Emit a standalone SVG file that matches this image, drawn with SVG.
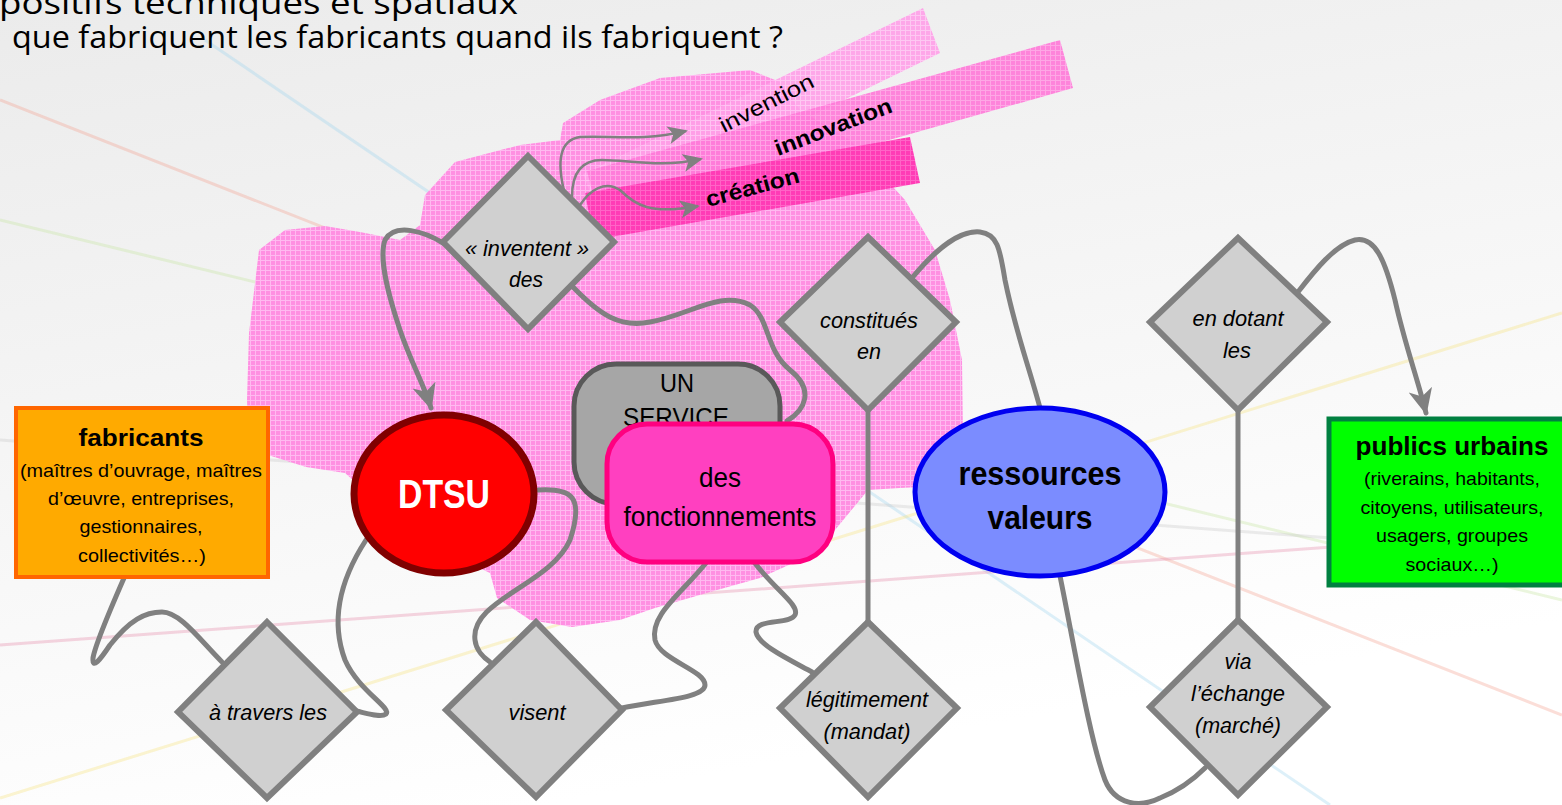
<svg xmlns="http://www.w3.org/2000/svg" width="1562" height="805" viewBox="0 0 1562 805">
<defs>
  <linearGradient id="bg" x1="0" y1="0" x2="0.35" y2="1">
    <stop offset="0" stop-color="#ebebeb"/>
    <stop offset="0.6" stop-color="#f7f7f7"/>
    <stop offset="1" stop-color="#ffffff"/>
  </linearGradient>
  <pattern id="gridBlob" width="5" height="5" patternUnits="userSpaceOnUse">
    <rect width="5" height="5" fill="#ff90e2"/>
    <path d="M0,0.5 H5 M0.5,0 V5" stroke="#ffbaf0" stroke-width="1"/>
  </pattern>
  <pattern id="gridInv" width="5" height="5" patternUnits="userSpaceOnUse">
    <rect width="5" height="5" fill="#ff9fe8"/>
    <path d="M0,0.5 H5 M0.5,0 V5" stroke="#ffc4f2" stroke-width="1"/>
  </pattern>
  <pattern id="gridInno" width="5" height="5" patternUnits="userSpaceOnUse">
    <rect width="5" height="5" fill="#ff78d8"/>
    <path d="M0,0.5 H5 M0.5,0 V5" stroke="#ff9fe4" stroke-width="1"/>
  </pattern>
  <pattern id="gridCre" width="5" height="5" patternUnits="userSpaceOnUse">
    <rect width="5" height="5" fill="#ff3cb6"/>
    <path d="M0,0.5 H5 M0.5,0 V5" stroke="#ff64c6" stroke-width="1"/>
  </pattern>
  <marker id="arrBig" markerUnits="userSpaceOnUse" markerWidth="28" markerHeight="26" refX="24" refY="12" orient="auto">
    <path d="M0,0 L26,12 L0,24 L7,12 z" fill="#808080"/>
  </marker>
  <marker id="arrSmall" markerUnits="userSpaceOnUse" markerWidth="22" markerHeight="20" refX="18" refY="9" orient="auto">
    <path d="M0,0 L20,9 L0,18 L5,9 z" fill="#808080"/>
  </marker>
  <style>
    .t { font-family: "Liberation Sans", Arial, sans-serif; fill: #000; }
    .ttl { font-family: "Open Sans", "Liberation Sans", sans-serif; fill: #000; font-size: 31px; }
    .it { font-style: italic; font-size: 22px; }
    .dia { fill: #d0d0d0; stroke: #808080; stroke-width: 6; }
    .con { fill: none; stroke: #808080; stroke-width: 5; stroke-linecap: round; stroke-linejoin: round; }
    .thin { fill: none; stroke: #808080; stroke-width: 2.5; }
    .bg-line { fill: none; stroke-width: 3; opacity: 0.35; }
  </style>
</defs>

<g id="background">
  <rect width="1562" height="805" fill="url(#bg)"/>
  <line class="bg-line" x1="205" y1="40" x2="1330" y2="805" stroke="#9fd4ee"/>
  <line class="bg-line" x1="0" y1="100" x2="1562" y2="715" stroke="#f4a090"/>
  <line class="bg-line" x1="0" y1="645" x2="1562" y2="530" stroke="#e48aa8"/>
  <line class="bg-line" x1="0" y1="798" x2="1562" y2="313" stroke="#f6e27a"/>
  <line class="bg-line" x1="0" y1="220" x2="1562" y2="600" stroke="#c6e6a0"/>
  <line class="bg-line" x1="0" y1="440" x2="1562" y2="555" stroke="#c8c8c8"/>
</g>

<g id="title">
  <text class="ttl" x="-1" y="14" textLength="519" lengthAdjust="spacingAndGlyphs">positifs techniques et spatiaux</text>
  <text class="ttl" x="12" y="48" textLength="771" lengthAdjust="spacingAndGlyphs">que fabriquent les fabricants quand ils fabriquent ?</text>
</g>

<g id="pink-zone">
  <path d="M285,230 L325,226 L360,232 L400,240 L420,225 L425,195 L455,162 L520,145 L560,140 L563,123 L600,100 L660,78 L750,70 L780,82 L800,110 L850,140 L905,200 L935,250 L950,300 L962,360 L963,440 L960,485 L900,488 L868,490 L835,530 L800,560 L760,578 L710,592 L655,608 L620,620 L572,627 L530,620 L497,598 L490,573 L420,540 L345,473 L306,467 L268,455 L249,453 L247,400 L249,333 L259,250 Z" fill="url(#gridBlob)"/>
  <polygon points="583,174 923,8 940,53 600,219" fill="url(#gridInv)" opacity="0.9"/>
  <polygon points="587,171 1060,40 1073,88 600,222" fill="url(#gridInno)" opacity="0.9"/>
  <polygon points="585,193 910,137 920,183 594,240" fill="url(#gridCre)"/>
  <text class="t" transform="translate(724,133) rotate(-27)" font-size="22" textLength="103" lengthAdjust="spacingAndGlyphs">invention</text>
  <text class="t" transform="translate(778,156) rotate(-21)" font-size="22" font-weight="bold" textLength="124" lengthAdjust="spacingAndGlyphs">innovation</text>
  <text class="t" transform="translate(708,207) rotate(-15)" font-size="22" font-weight="bold" textLength="96" lengthAdjust="spacingAndGlyphs">création</text>
</g>

<g id="connectors">
  <path class="thin" d="M565,195 C556,160 560,140 580,137 C610,135 640,142 686,131" marker-end="url(#arrSmall)"/>
  <path class="thin" d="M572,197 C572,175 580,160 602,160 C630,160 660,168 701,159" marker-end="url(#arrSmall)"/>
  <path class="thin" d="M580,205 C590,190 605,180 620,190 C635,205 650,215 698,206" marker-end="url(#arrSmall)"/>
  <path class="con" d="M443,243 C425,232 395,222 385,240 C378,260 390,300 400,330 C410,360 424,385 431,408" marker-end="url(#arrBig)"/>
  <path class="con" d="M573,287 C600,315 620,328 650,322 C690,315 720,290 750,305 C770,318 765,350 790,370 C815,390 805,410 787,421"/>
  <path class="con" d="M124,578 C110,610 95,645 93,658 C92,670 100,660 110,645 C130,620 145,612 162,612 C180,612 200,640 222,662"/>
  <path class="con" d="M366,540 C340,580 330,620 345,660 C358,690 392,708 386,714 C381,718 366,713 356,711"/>
  <path class="con" d="M538,490 C570,488 585,495 570,540 C550,585 470,600 475,640 C476,650 484,658 490,662"/>
  <path class="con" d="M706,563 C680,595 650,615 655,640 C660,660 705,670 705,685 C705,698 660,700 622,708"/>
  <path class="con" d="M754,562 C775,590 800,605 795,615 C790,625 755,618 756,632 C758,645 790,660 812,672"/>
  <path class="con" d="M868,410 L868,622"/>
  <path class="con" d="M912,278 C935,250 960,230 980,232 C998,234 1000,250 1005,280 C1015,330 1030,370 1040,408"/>
  <path class="con" d="M1060,576 C1075,650 1090,740 1105,780 C1115,805 1140,808 1160,798 C1180,790 1195,778 1205,768"/>
  <path class="con" d="M1238,410 L1238,620"/>
  <path class="con" d="M1298,292 C1315,270 1335,245 1355,240 C1375,236 1385,260 1395,300 C1405,345 1418,380 1426,413" marker-end="url(#arrBig)"/>
</g>

<g id="node-fabricants">
  <rect x="16" y="408" width="252" height="169" fill="#ffaa00" stroke="#ff6600" stroke-width="4"/>
  <text class="t" x="141" y="446" font-size="24" font-weight="bold" text-anchor="middle" textLength="125" lengthAdjust="spacingAndGlyphs">fabricants</text>
  <text class="t" x="141" y="477" font-size="19" text-anchor="middle" textLength="242" lengthAdjust="spacingAndGlyphs">(maîtres d’ouvrage, maîtres</text>
  <text class="t" x="141" y="505" font-size="19" text-anchor="middle" textLength="186" lengthAdjust="spacingAndGlyphs">d’œuvre, entreprises,</text>
  <text class="t" x="141" y="533" font-size="19" text-anchor="middle" textLength="123" lengthAdjust="spacingAndGlyphs">gestionnaires,</text>
  <text class="t" x="142" y="562" font-size="19" text-anchor="middle" textLength="128" lengthAdjust="spacingAndGlyphs">collectivités…)</text>
</g>

<g id="node-dtsu">
  <ellipse cx="444" cy="494" rx="90" ry="79" fill="#ff0000" stroke="#800000" stroke-width="7"/>
  <text class="t" x="444" y="508" font-size="40" font-weight="bold" text-anchor="middle" style="fill:#ffffff" textLength="92" lengthAdjust="spacingAndGlyphs">DTSU</text>
</g>

<g id="node-un-service">
  <rect x="574" y="364" width="206" height="140" rx="42" ry="42" fill="#a6a6a6" stroke="#595959" stroke-width="5"/>
  <text class="t" x="677" y="392" font-size="25" text-anchor="middle" textLength="34" lengthAdjust="spacingAndGlyphs">UN</text>
  <text class="t" x="676" y="426" font-size="25" text-anchor="middle" textLength="106" lengthAdjust="spacingAndGlyphs">SERVICE</text>
</g>

<g id="node-fonctionnements">
  <rect x="607" y="424" width="226" height="138" rx="40" ry="40" fill="#ff40c0" stroke="#ff0080" stroke-width="5"/>
  <text class="t" x="720" y="487" font-size="27" text-anchor="middle" textLength="42" lengthAdjust="spacingAndGlyphs">des</text>
  <text class="t" x="720" y="526" font-size="27" text-anchor="middle" textLength="193" lengthAdjust="spacingAndGlyphs">fonctionnements</text>
</g>

<g id="node-ressources">
  <ellipse cx="1040" cy="492" rx="125" ry="84" fill="#7b8cff" stroke="#0000f0" stroke-width="5"/>
  <text class="t" x="1040" y="485" font-size="33" font-weight="bold" text-anchor="middle" textLength="163" lengthAdjust="spacingAndGlyphs">ressources</text>
  <text class="t" x="1040" y="529" font-size="33" font-weight="bold" text-anchor="middle" textLength="105" lengthAdjust="spacingAndGlyphs">valeurs</text>
</g>

<g id="node-publics">
  <rect x="1329" y="419" width="240" height="166" fill="#00ff00" stroke="#008040" stroke-width="5"/>
  <text class="t" x="1452" y="455" font-size="26" font-weight="bold" text-anchor="middle" textLength="193" lengthAdjust="spacingAndGlyphs">publics urbains</text>
  <text class="t" x="1452" y="485" font-size="19" text-anchor="middle" textLength="176" lengthAdjust="spacingAndGlyphs">(riverains, habitants,</text>
  <text class="t" x="1452" y="514" font-size="19" text-anchor="middle" textLength="183" lengthAdjust="spacingAndGlyphs">citoyens, utilisateurs,</text>
  <text class="t" x="1452" y="542" font-size="19" text-anchor="middle" textLength="152" lengthAdjust="spacingAndGlyphs">usagers, groupes</text>
  <text class="t" x="1452" y="571" font-size="19" text-anchor="middle" textLength="93" lengthAdjust="spacingAndGlyphs">sociaux…)</text>
</g>

<g id="node-inventent">
  <polygon class="dia" points="528,156 614,242 528,329 443,242"/>
  <text class="t it" x="527" y="256" text-anchor="middle" textLength="124" lengthAdjust="spacingAndGlyphs">« inventent »</text>
  <text class="t it" x="526" y="287" text-anchor="middle" textLength="34" lengthAdjust="spacingAndGlyphs">des</text>
</g>

<g id="node-constitues">
  <polygon class="dia" points="868,237 956,322 868,410 780,322"/>
  <text class="t it" x="869" y="328" text-anchor="middle" textLength="98" lengthAdjust="spacingAndGlyphs">constitués</text>
  <text class="t it" x="869" y="359" text-anchor="middle" textLength="24" lengthAdjust="spacingAndGlyphs">en</text>
</g>

<g id="node-en-dotant">
  <polygon class="dia" points="1238,238 1327,322 1238,410 1150,322"/>
  <text class="t it" x="1238" y="326" text-anchor="middle" textLength="91" lengthAdjust="spacingAndGlyphs">en dotant</text>
  <text class="t it" x="1237" y="358" text-anchor="middle" textLength="28" lengthAdjust="spacingAndGlyphs">les</text>
</g>

<g id="node-a-travers">
  <polygon class="dia" points="267,622 357,712 267,798 178,712"/>
  <text class="t it" x="268" y="720" text-anchor="middle" textLength="118" lengthAdjust="spacingAndGlyphs">à travers les</text>
</g>

<g id="node-visent">
  <polygon class="dia" points="536,622 622,710 536,797 446,710"/>
  <text class="t it" x="537" y="720" text-anchor="middle" textLength="57" lengthAdjust="spacingAndGlyphs">visent</text>
</g>

<g id="node-legitimement">
  <polygon class="dia" points="868,622 957,708 868,797 780,708"/>
  <text class="t it" x="867" y="707" text-anchor="middle" textLength="122" lengthAdjust="spacingAndGlyphs">légitimement</text>
  <text class="t it" x="867" y="739" text-anchor="middle" textLength="87" lengthAdjust="spacingAndGlyphs">(mandat)</text>
</g>

<g id="node-via">
  <polygon class="dia" points="1238,620 1327,707 1238,795 1150,707"/>
  <text class="t it" x="1238" y="669" text-anchor="middle" textLength="27" lengthAdjust="spacingAndGlyphs">via</text>
  <text class="t it" x="1238" y="701" text-anchor="middle" textLength="94" lengthAdjust="spacingAndGlyphs">l’échange</text>
  <text class="t it" x="1238" y="733" text-anchor="middle" textLength="86" lengthAdjust="spacingAndGlyphs">(marché)</text>
</g>
</svg>
